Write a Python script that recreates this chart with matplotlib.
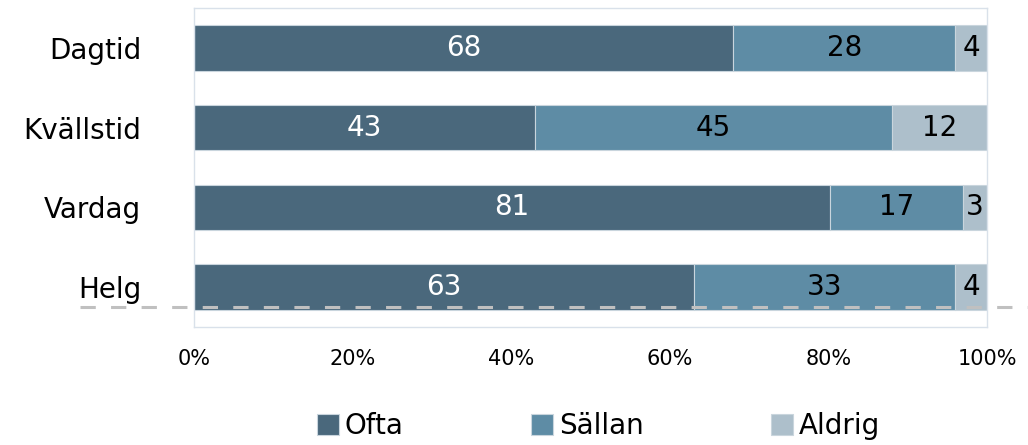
import numpy as np
import matplotlib.pyplot as plt

# Data
categories = ["Dagtid", "Kvällstid", "Vardag", "Helg"]
ofta = [68, 43, 81, 63]
sallan = [28, 45, 17, 33]
aldrig = [4, 12, 3, 4]
series_names = ["Ofta", "Sällan", "Aldrig"]
x_ticks = [0, 20, 40, 60, 80, 100]

colors = ["#4A687C", "#5E8CA5", "#ADBFCB"]
text_colors = ["white", "black", "black"]

values = np.array([ofta, sallan, aldrig], dtype=float)
# 100% stacked: normalise each row (Vardag sums to 101)
shares = values / values.sum(axis=0) * 100

fig = plt.figure(figsize=(10.28, 4.45), dpi=100)
ax = fig.add_axes([0.1887, 0.265, 0.7714, 0.717])

y = np.arange(len(categories))
left = np.zeros(len(categories))
for i, name in enumerate(series_names):
    ax.barh(y, shares[i], left=left, height=0.57, color=colors[i],
            edgecolor="#C9D5DD", linewidth=0.8, label=name)
    # value labels centred in each segment
    for j in range(len(categories)):
        ax.text(left[j] + shares[i][j] / 2, y[j], f"{int(values[i][j])}",
                ha="center", va="center", fontsize=20, color=text_colors[i])
    left += shares[i]

ax.set_xlim(0, 100)
ax.set_ylim(len(categories) - 0.5, -0.5)
ax.set_yticks(y)
ax.set_yticklabels(categories, fontsize=20)
ax.set_xticks(x_ticks)
ax.set_xticklabels([f"{t}%" for t in x_ticks], fontsize=15)
ax.tick_params(axis="y", length=0, pad=38)
ax.tick_params(axis="x", length=0, pad=16)

for sp in ax.spines.values():
    sp.set_color("#D9E1EA")
    sp.set_linewidth(1)

# dashed reference line under the last bar
ax.axhline(3.25, xmin=-0.144, xmax=1.06, color="#C0C0C0", linewidth=2.2,
           dashes=(5, 5), clip_on=False, zorder=5)

leg = ax.legend(loc="center", bbox_to_anchor=(0.51, -0.31), ncol=3,
                frameon=False, fontsize=20, handlelength=0.8, handleheight=0.8,
                handletextpad=0.2, columnspacing=4.6, borderpad=0)

fig.savefig("out.png", dpi=100)
